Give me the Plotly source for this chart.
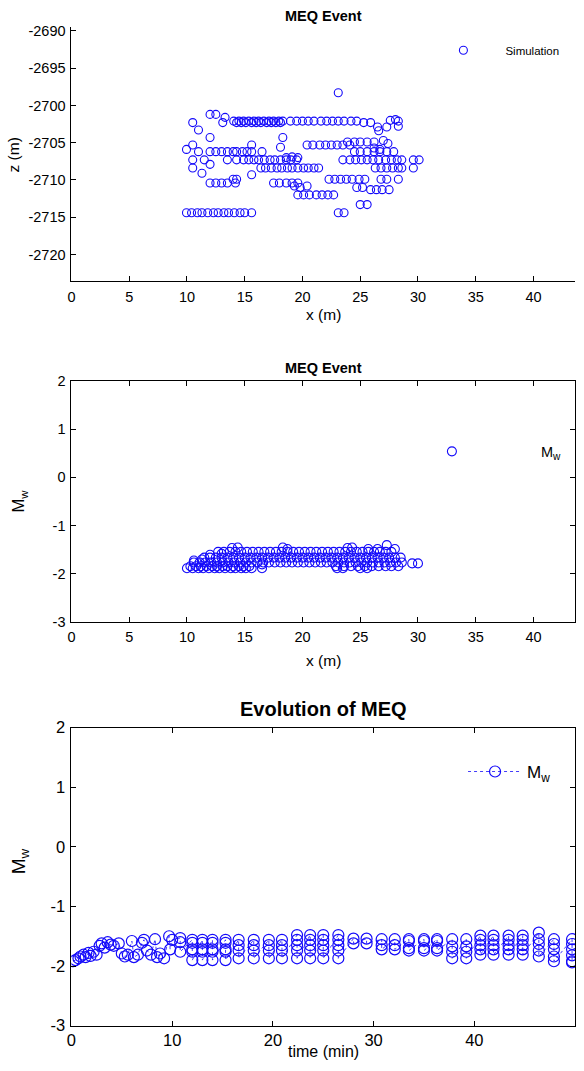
import plotly.graph_objects as go

BLUE = "rgb(20,10,250)"
FONT = "Liberation Sans, Arial, Helvetica, sans-serif"

# ---- event locations: x along the fracture (m) and depth z (m), by depth band ----
loc_rows_z = [-2714.4, -2702.1, -2702.3, -2705.3, -2704.9, -2706.2,
              -2707.3, -2708.4, -2709.9, -2710.4, -2711.3, -2712.0]
loc_rows_x = [
    [9.96, 10.4, 10.9, 11.3, 11.8, 12.3, 12.7, 13.2, 13.6, 14.1, 14.6, 15.0, 15.6, 23.1, 23.6],
    [14.05, 14.5, 14.9, 15.35, 15.8, 16.2, 16.65, 17.1, 17.5, 17.95, 18.3, 18.96, 19.5, 20.0,
     20.5, 21.0, 21.6, 22.1, 22.6, 23.1, 23.6, 24.2, 24.7],
    [14.3, 14.7, 15.1, 15.6, 16.0, 16.4, 16.9, 17.3, 17.7, 18.1, 25.3, 25.9, 10.5, 13.1],
    [20.4, 20.9, 21.5, 22.0, 22.5, 23.0, 23.5, 24.1, 10.5, 15.6],
    [23.9, 24.5, 25.0, 25.6, 26.2],
    [11.0, 12.0, 12.5, 13.0, 13.5, 14.0, 14.3, 14.8, 15.2, 15.6, 16.5, 24.5, 25.0, 25.6,
     26.2, 26.7, 27.3, 27.9],
    [10.5, 11.5, 13.5, 14.3, 14.9, 15.35, 15.8, 16.2, 16.7, 17.2, 17.6, 18.1, 18.6, 19.0,
     19.5, 23.5, 24.1, 24.6, 25.1, 25.6, 26.1, 26.6, 27.2, 27.7, 28.2, 28.6, 29.6, 30.1],
    [10.5, 16.4, 16.8, 17.3, 17.8, 18.2, 18.7, 19.1, 19.6, 20.1, 20.5, 21.0, 21.4, 26.3,
     26.8, 27.3, 27.8, 28.3, 28.6, 29.6],
    [14.0, 14.3, 22.3, 22.8, 23.3, 23.8, 24.3, 24.9, 25.4, 26.8, 27.3, 28.3],
    [12.0, 12.5, 13.0, 13.5, 14.2, 17.5, 18.0, 18.6, 19.1, 19.6],
    [25.9, 26.4, 26.9, 27.5],
    [19.6, 20.1, 20.6, 21.2, 21.7, 22.2, 22.7],
]
loc_extra_x = [23.1, 12.0, 12.5, 13.3, 11.0, 26.5, 26.6, 27.3, 27.6, 28.05, 28.3, 28.3,
               27.0, 27.4, 12.0, 18.3, 9.96, 18.1, 26.2, 26.7, 18.6, 19.1, 19.6, 12.0,
               11.3, 15.6, 19.3, 20.4, 19.8, 24.7, 25.2, 25.0, 25.6]
loc_extra_z = [-2698.3, -2701.2, -2701.2, -2701.6, -2703.3, -2702.9, -2703.4, -2702.9,
               -2702.0, -2701.9, -2702.1, -2702.8, -2704.7, -2705.1, -2704.3, -2704.3,
               -2705.9, -2705.6, -2705.7, -2705.9, -2707.0, -2706.9, -2707.0, -2707.9,
               -2709.1, -2709.3, -2710.8, -2710.8, -2711.0, -2711.0, -2711.0, -2713.3,
               -2713.3]

# ---- moment magnitude of the events against x, by magnitude band ----
mag_rows_mw = [-1.89, -1.85, -1.77, -1.67, -1.55]
mag_rows_x = [
    [10.0, 10.5, 11.0, 11.4, 11.9, 12.4, 12.8, 13.3, 13.8, 14.2, 14.7, 15.1, 15.6, 16.5,
     23.0, 23.5, 25.0, 25.6],
    [10.3, 10.8, 11.2, 11.7, 12.2, 12.6, 13.1, 13.5, 14.0, 14.5, 14.9, 15.4, 22.9, 23.6,
     24.2, 24.8, 25.4, 26.0, 26.6, 27.2, 27.7, 28.3],
    [10.6, 11.1, 11.6, 12.1, 12.6, 13.1, 13.6, 14.1, 14.6, 15.1, 15.6, 16.1, 16.6, 17.1,
     17.6, 18.1, 18.6, 19.1, 19.6, 20.1, 20.6, 21.1, 21.6, 22.1, 22.6, 23.1, 23.6, 24.1,
     24.6, 25.1, 25.6, 26.1, 26.6, 27.1, 27.6, 28.1, 28.6],
    [11.5, 12.0, 12.5, 13.0, 13.5, 14.0, 14.5, 15.0, 15.5, 16.0, 16.5, 17.0, 17.5, 18.0,
     18.5, 19.0, 19.5, 20.0, 20.5, 21.0, 21.5, 22.0, 22.5, 23.0, 23.5, 24.0, 24.5, 25.0,
     25.5, 26.0, 26.5, 27.0, 27.5, 28.0, 28.5],
    [12.7, 13.2, 13.7, 14.2, 14.7, 15.2, 15.7, 16.2, 16.7, 17.2, 17.7, 18.2, 18.7, 19.2,
     19.7, 20.2, 20.7, 21.2, 21.7, 22.2, 22.7, 23.2, 23.7, 24.2, 24.7, 25.2, 25.7, 26.2,
     26.7, 27.2, 27.7],
]
mag_extra_x = [13.9, 14.4, 18.3, 18.7, 23.9, 24.3, 25.7, 27.3, 26.5, 28.0,
               10.6, 11.3, 12.0, 13.0, 29.5, 30.0, 16.5]
mag_extra_mw = [-1.47, -1.46, -1.46, -1.49, -1.47, -1.46, -1.49, -1.41, -1.49, -1.49,
                -1.73, -1.71, -1.61, -1.59, -1.79, -1.79, -1.81]

# ---- magnitude against time ----
ramp_t = [0.2, 0.4, 0.7, 0.9, 1.2, 1.4, 1.7, 1.9, 2.2, 2.5, 2.8, 3.0, 3.3, 3.6, 3.9, 4.2,
          4.7, 5.0, 5.3, 5.6, 6.0, 6.2, 6.6, 7.0, 7.2, 7.5, 7.9, 8.3, 8.5, 8.8, 9.2, 9.7,
          9.8, 10.0, 10.8, 10.8, 10.8]
ramp_mw = [-1.92, -1.90, -1.87, -1.84, -1.81, -1.85, -1.78, -1.83, -1.76, -1.81, -1.66,
           -1.62, -1.69, -1.60, -1.64, -1.66, -1.62, -1.79, -1.84, -1.81, -1.58, -1.85,
           -1.81, -1.61, -1.56, -1.74, -1.81, -1.55, -1.85, -1.79, -1.87, -1.50, -1.72,
           -1.56, -1.53, -1.60, -1.76]
step_t = [12.0, 13.0, 14.0, 15.3, 16.6, 18.1, 19.6, 20.9, 22.4, 23.7, 25.0, 26.5, 28.0,
          29.3, 30.8, 32.1, 33.5, 35.0, 36.3, 37.8, 39.2, 40.6, 41.9, 43.4, 44.8, 46.4,
          47.9, 49.7]
step_mw = [
    [-1.56, -1.61, -1.72, -1.76, -1.90],
    [-1.56, -1.61, -1.72, -1.76, -1.90],
    [-1.56, -1.61, -1.72, -1.76, -1.90],
    [-1.56, -1.61, -1.72, -1.76, -1.90],
    [-1.56, -1.65, -1.74, -1.87],
    [-1.56, -1.65, -1.74, -1.87],
    [-1.56, -1.65, -1.74, -1.87],
    [-1.56, -1.65, -1.74, -1.87],
    [-1.48, -1.56, -1.65, -1.74, -1.87],
    [-1.48, -1.56, -1.65, -1.74, -1.87],
    [-1.48, -1.56, -1.65, -1.74, -1.87],
    [-1.48, -1.56, -1.65, -1.74, -1.87],
    [-1.54, -1.62],
    [-1.54, -1.62],
    [-1.55, -1.65, -1.72],
    [-1.55, -1.65, -1.72],
    [-1.55, -1.58, -1.70, -1.74],
    [-1.55, -1.58, -1.70, -1.74],
    [-1.55, -1.58, -1.70, -1.74],
    [-1.55, -1.67, -1.76, -1.87],
    [-1.55, -1.67, -1.76, -1.87],
    [-1.49, -1.56, -1.65, -1.72, -1.81],
    [-1.49, -1.56, -1.65, -1.72, -1.81],
    [-1.49, -1.56, -1.65, -1.72, -1.81],
    [-1.49, -1.56, -1.65, -1.72, -1.81],
    [-1.44, -1.55, -1.63, -1.74, -1.84],
    [-1.55, -1.63, -1.72, -1.84, -1.92],
    [-1.55, -1.63, -1.72, -1.82, -1.92, -1.94],
]

# flatten the grouped tables into plain point lists
loc_x, loc_z = [], []
for z, xs in zip(loc_rows_z, loc_rows_x):
    loc_x += xs
    loc_z += [z] * len(xs)
loc_x += loc_extra_x
loc_z += loc_extra_z

mag_x, mag_mw = [], []
for mw, xs in zip(mag_rows_mw, mag_rows_x):
    mag_x += xs
    mag_mw += [mw] * len(xs)
mag_x += mag_extra_x
mag_mw += mag_extra_mw

evo_t, evo_mw = list(ramp_t), list(ramp_mw)
for t, mws in zip(step_t, step_mw):
    evo_t += [t] * len(mws)
    evo_mw += mws

H = 1071.0
W = 584.0
XL, XR = 67 / W, 575 / W


def ydom(top_px, bot_px):
    return [1 - bot_px / H, 1 - top_px / H]


def ticks(vals):
    # plain hyphen-minus tick labels
    return dict(tickvals=vals, ticktext=[str(v) for v in vals])


fig = go.Figure()

fig.add_trace(go.Scatter(
    x=loc_x, y=loc_z, mode="markers", name="Simulation",
    marker=dict(symbol="circle-open", size=8, color=BLUE, line=dict(width=1.1)),
    xaxis="x", yaxis="y", legend="legend"))

fig.add_trace(go.Scatter(
    x=mag_x, y=mag_mw, mode="markers", name="M<sub>w</sub>",
    marker=dict(symbol="circle-open", size=9, color=BLUE, line=dict(width=1.1)),
    xaxis="x2", yaxis="y2", legend="legend2"))

fig.add_trace(go.Scatter(
    x=evo_t, y=evo_mw, mode="lines+markers", name="M<sub>w</sub>",
    line=dict(color=BLUE, width=0.8, dash="dot"),
    marker=dict(symbol="circle-open", size=11, color=BLUE, line=dict(width=1.2)),
    xaxis="x3", yaxis="y3", legend="legend3"))

small = dict(family=FONT, size=14.5, color="black")
large = dict(family=FONT, size=16.5, color="black")
axis_common = dict(
    showgrid=False, zeroline=False, showline=True, linecolor="black", linewidth=1,
    ticks="inside", ticklen=5, tickcolor="black", tickwidth=1,
)

fig.update_layout(
    width=584, height=1071,
    margin=dict(l=0, r=0, t=0, b=0),
    paper_bgcolor="white", plot_bgcolor="white",
    font=dict(family=FONT, color="black"),
    showlegend=True,
    xaxis=dict(domain=[XL, XR], range=[0, 43.6], anchor="y", ticklabelstandoff=2,
               tickfont=small, **ticks(list(range(0, 45, 5))), **axis_common),
    yaxis=dict(domain=ydom(18.5, 277), range=[-2723.6, -2689.5], anchor="x",
               ticklabelstandoff=2, tickfont=small,
               **ticks(list(range(-2720, -2685, 5))), **axis_common),
    xaxis2=dict(domain=[XL, XR], range=[0, 43.6], anchor="y2", mirror="ticks",
                ticklabelstandoff=2, tickfont=small, **ticks(list(range(0, 45, 5))),
                **axis_common),
    yaxis2=dict(domain=ydom(378.7, 623), range=[-3, 2], anchor="x2", mirror="ticks",
                ticklabelstandoff=2, tickfont=small, **ticks([-3, -2, -1, 0, 1, 2]),
                **axis_common),
    xaxis3=dict(domain=[XL, XR], range=[0, 50], anchor="y3", mirror="ticks",
                ticklabelstandoff=0, tickfont=large, **ticks([0, 10, 20, 30, 40, 50]),
                **axis_common),
    yaxis3=dict(domain=ydom(731, 1034), range=[-3, 2], anchor="x3", mirror="ticks",
                ticklabelstandoff=2, tickfont=large, **ticks([-3, -2, -1, 0, 1, 2]),
                **axis_common),
    legend=dict(x=420 / W, y=1 - 42 / H, xanchor="left", yanchor="middle",
                bgcolor="rgba(0,0,0,0)", itemwidth=74,
                font=dict(family=FONT, size=11.5, color="black")),
    legend2=dict(x=361 / W, y=1 - 450 / H, xanchor="left", yanchor="middle",
                 bgcolor="rgba(0,0,0,0)", itemwidth=168,
                 font=dict(family=FONT, size=14.5, color="black")),
    legend3=dict(x=462 / W, y=1 - 776 / H, xanchor="left", yanchor="middle",
                 bgcolor="rgba(0,0,0,0)", itemwidth=54,
                 font=dict(family=FONT, size=17, color="black")),
)

cx = (XL + XR) / 2
annotations = [
    dict(text="<b>MEQ Event</b>", x=cx, y=1 - 7 / H, size=14.5),
    dict(text="x (m)", x=cx, y=1 - 311 / H, size=15.5),
    dict(text="<b>MEQ Event</b>", x=cx, y=1 - 365 / H, size=14.5),
    dict(text="x (m)", x=cx, y=1 - 663 / H, size=15.5),
    dict(text="<b>Evolution of MEQ</b>", x=cx, y=1 - 712 / H, size=20),
]
for a in annotations:
    fig.add_annotation(text=a["text"], x=a["x"], y=a["y"], xref="paper", yref="paper",
                       xanchor="center", yanchor="middle", showarrow=False,
                       font=dict(family=FONT, size=a["size"], color="black"))

# bottom axis title sits on the lower edge of the figure
fig.add_annotation(text="time (min)", x=cx, y=0, xref="paper", yref="paper",
                   xanchor="center", yanchor="bottom", showarrow=False,
                   font=dict(family=FONT, size=16, color="black"))

ytitles = [("z (m)", 9, 148, 15.5), ("M<sub>w</sub>", 14, 500, 16.5),
           ("M<sub>w</sub>", 16, 867, 19)]
for text, px, py, size in ytitles:
    fig.add_annotation(text=text, x=px / W, y=1 - py / H, xref="paper", yref="paper",
                       xanchor="center", yanchor="middle", showarrow=False, textangle=-90,
                       font=dict(family=FONT, size=size, color="black"))

fig.write_html("out.html")
